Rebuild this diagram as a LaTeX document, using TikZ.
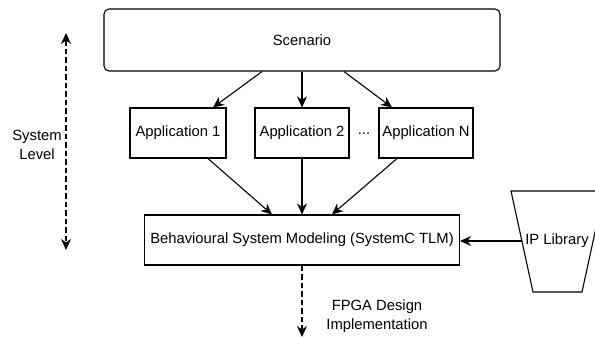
\documentclass[tikz,border=0pt]{standalone}
\usepackage{fontspec}
\setmainfont{Liberation Sans}
\usetikzlibrary{arrows.meta,calc}
\begin{document}
\begin{tikzpicture}[x=1pt,y=-1pt,
  every node/.style={font=\fontsize{14.8}{19.5}\selectfont},
  box/.style={draw,line width=1.1pt,inner sep=0pt,align=center},
  tip/.style={Stealth[length=11pt,width=10pt,inset=3.5pt]},
  arr/.style={line width=1.1pt,-{Stealth[length=11pt,width=10pt,inset=3.5pt]}},
  darr/.style={arr,dash pattern=on 5.5pt off 3pt},
  txt/.style={inner sep=0pt,align=center}]
\useasboundingbox (0,0) rectangle (595,338);
\clip (0,0) rectangle (595,338);
\node[box,rounded corners=5pt,minimum width=396pt,minimum height=62pt] (sc) at (302,40) {Scenario};
\node[box,minimum width=96pt,minimum height=50pt] (a1) at (178,133) {Application 1};
\node[box,minimum width=94pt,minimum height=50pt] (a2) at (302,133) {Application 2};
\node[box,minimum width=94pt,minimum height=50pt] (an) at (426,133) {Application N};
\node[txt] (dots) at (364,134) {...};
\node[box,minimum width=315pt,minimum height=50pt] (bsm) at (302,240) {Behavioural System Modeling (SystemC TLM)};
% IP Library trapezium
\draw[line width=1.1pt] (511,191) -- (604,191) -- (582,292) -- (533,292) -- cycle;
\node[txt] (ip) at (557,241) {IP Library};
\coordinate (ipl) at (522,241);
% connectors
\draw[arr] ([xshift=-40pt]sc.south) -- ([xshift=35pt]a1.north);
\draw[arr] (sc.south) -- (a2.north);
\draw[arr] ([xshift=42pt]sc.south) -- ([xshift=-34pt]an.north);
\draw[arr] ([xshift=30pt]a1.south) -- ([xshift=-30pt]bsm.north);
\draw[arr] (a2.south) -- (bsm.north);
\draw[arr] ([xshift=-29pt]an.south) -- ([xshift=30pt]bsm.north);
\draw[arr] (ipl) -- (bsm.east |- ipl);
% system level
\coordinate (slt) at (66,33);
\coordinate (slb) at (66,250);
\draw[darr,{Stealth[length=11pt,width=10pt,inset=3.5pt]}-{Stealth[length=11pt,width=10pt,inset=3.5pt]}] (slt) -- (slb);
\node[txt] (sl) at (37,145) {System\\Level};
% FPGA
\coordinate (fp) at (302,337);
\draw[darr] (bsm.south) -- (bsm.south |- fp);
\node[txt] (fpt) at (377,316) {FPGA Design\\Implementation};
\end{tikzpicture}
\end{document}
